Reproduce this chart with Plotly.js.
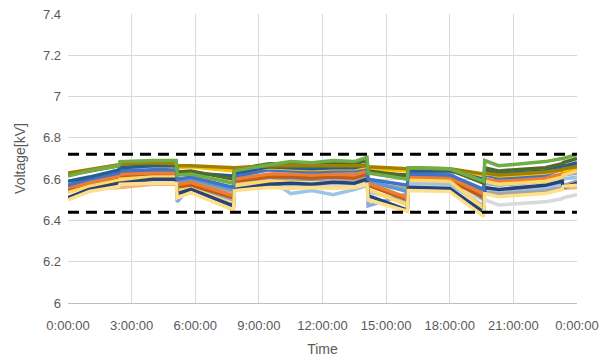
<!DOCTYPE html>
<html>
<head>
<meta charset="utf-8">
<script src="https://cdn.plot.ly/plotly-3.0.1.min.js"></script>
<style>html,body{margin:0;padding:0;background:#fff;}#chart{width:609px;height:363px;}</style>
</head>
<body>
<div id="chart"></div>
<script>
// Time in hours
const hours = [0, 1, 2.4, 2.45, 4, 5.1, 5.15, 5.8, 7.8, 7.85, 9.5, 10.5, 11.5, 12.5, 13.5, 14.1, 14.15, 16, 16.05, 18, 19.6, 19.65, 20.3, 22.5, 23.3, 23.35, 24];
const tickHours = [0, 3, 6, 9, 12, 15, 18, 21, 24];
const tickLabels = ["0:00:00","3:00:00","6:00:00","9:00:00","12:00:00","15:00:00","18:00:00","21:00:00","0:00:00"];
const upperLimit = [6.72, 6.72];
const lowerLimit = [6.44, 6.44];
const limitHours = [0, 24];

const sPeach      = [6.55,6.555,6.56,6.56,6.575,6.575,6.57,6.57,6.56,6.56,6.565,6.565,6.56,6.565,6.565,6.57,6.565,6.56,6.565,6.565,6.545,6.55,6.545,6.55,6.555,6.555,6.56];
const sLightGray  = [6.545,6.565,6.59,6.59,6.595,6.595,6.565,6.57,6.555,6.57,6.58,6.57,6.575,6.57,6.575,6.58,6.57,6.55,6.57,6.565,6.5,6.5,6.475,6.49,6.505,6.51,6.525];
const sGray       = [6.555,6.575,6.6,6.605,6.61,6.605,6.58,6.585,6.54,6.585,6.6,6.595,6.6,6.595,6.6,6.61,6.585,6.55,6.6,6.595,6.525,6.54,6.53,6.545,6.56,6.57,6.59];
const sLightBlue2 = [6.545,6.57,6.59,6.61,6.615,6.615,6.56,6.565,6.5,6.585,6.6,6.53,6.545,6.525,6.55,6.57,6.54,6.49,6.58,6.575,6.47,6.555,6.545,6.56,6.58,6.6,6.61];
const sLightBlue  = [6.57,6.6,6.585,6.655,6.665,6.66,6.49,6.57,6.5,6.61,6.65,6.6,6.61,6.59,6.62,6.66,6.47,6.53,6.64,6.63,6.5,6.58,6.57,6.59,6.61,6.62,6.63];
const sMidBlue    = [6.56,6.59,6.62,6.63,6.64,6.64,6.59,6.6,6.55,6.6,6.62,6.61,6.6,6.615,6.61,6.63,6.59,6.54,6.615,6.61,6.54,6.6,6.585,6.6,6.62,6.63,6.645];
const sBrown      = [6.545,6.57,6.6,6.61,6.62,6.62,6.56,6.57,6.51,6.59,6.61,6.61,6.605,6.61,6.605,6.625,6.57,6.5,6.6,6.595,6.51,6.59,6.58,6.595,6.615,6.63,6.64];
const sOrange     = [6.56,6.58,6.615,6.625,6.63,6.63,6.575,6.585,6.52,6.6,6.625,6.625,6.62,6.625,6.62,6.64,6.58,6.51,6.61,6.605,6.53,6.6,6.59,6.605,6.625,6.64,6.65];
const sYellow2    = [6.535,6.565,6.595,6.6,6.61,6.61,6.545,6.555,6.48,6.57,6.59,6.585,6.58,6.585,6.58,6.6,6.55,6.475,6.595,6.59,6.46,6.59,6.575,6.59,6.61,6.62,6.64];
const sDarkBlue2  = [6.51,6.55,6.58,6.58,6.6,6.6,6.53,6.55,6.47,6.55,6.575,6.58,6.575,6.585,6.58,6.6,6.52,6.45,6.56,6.555,6.44,6.56,6.55,6.57,6.59,6.56,6.58];
const sYellowLow  = [6.5,6.54,6.565,6.575,6.58,6.58,6.51,6.535,6.45,6.545,6.56,6.555,6.56,6.555,6.56,6.575,6.5,6.445,6.545,6.54,6.42,6.53,6.515,6.53,6.55,6.565,6.57];
const sBlue       = [6.57,6.6,6.63,6.64,6.645,6.645,6.6,6.61,6.56,6.615,6.645,6.64,6.635,6.64,6.64,6.655,6.6,6.57,6.625,6.62,6.55,6.62,6.605,6.62,6.645,6.65,6.665];
const sGold       = [6.625,6.645,6.67,6.67,6.665,6.66,6.655,6.66,6.64,6.645,6.655,6.65,6.645,6.65,6.65,6.66,6.65,6.64,6.645,6.645,6.62,6.63,6.615,6.63,6.645,6.64,6.655];
const sDarkBlue1  = [6.59,6.61,6.645,6.655,6.665,6.665,6.635,6.63,6.615,6.63,6.66,6.655,6.65,6.655,6.655,6.67,6.63,6.62,6.64,6.64,6.6,6.64,6.625,6.64,6.66,6.665,6.68];
const sDarkGreen  = [6.62,6.64,6.665,6.675,6.68,6.68,6.635,6.64,6.6,6.645,6.675,6.675,6.67,6.675,6.675,6.69,6.64,6.615,6.655,6.645,6.58,6.655,6.64,6.655,6.675,6.68,6.7];
const sDarkGold   = [6.63,6.645,6.67,6.675,6.68,6.675,6.665,6.665,6.655,6.655,6.665,6.665,6.665,6.665,6.665,6.665,6.66,6.65,6.655,6.65,6.625,6.63,6.62,6.635,6.645,6.65,6.66];
const sGreen      = [6.615,6.64,6.665,6.685,6.69,6.69,6.62,6.625,6.58,6.64,6.67,6.685,6.68,6.69,6.685,6.705,6.63,6.6,6.655,6.65,6.59,6.69,6.665,6.685,6.7,6.7,6.72];

const series = [
  [sPeach, "#F4B183"], [sLightGray, "#D9D9D9"], [sGray, "#A5A5A5"],
  [sLightBlue2, "#9DC3E6"], [sLightBlue, "#8FAADC"], [sMidBlue, "#5B9BD5"],
  [sBrown, "#C55A11"], [sOrange, "#ED7D31"], [sYellow2, "#FFD966"],
  [sDarkBlue2, "#264478"], [sYellowLow, "#FFE08A"], [sBlue, "#4472C4"],
  [sGold, "#FFC000"], [sDarkBlue1, "#255E91"], [sDarkGreen, "#4E6B2A"],
  [sDarkGold, "#A08000"], [sGreen, "#70AD47"]
];

const traces = series.map(([vals, col]) => ({
  x: hours, y: vals, type: "scatter", mode: "lines",
  line: {color: col, width: 3.5}, hoverinfo: "skip", showlegend: false
}));
traces.push({x: limitHours, y: upperLimit, type: "scatter", mode: "lines",
  line: {color: "#000", width: 3, dash: "11px,7px"}, showlegend: false, hoverinfo: "skip"});
traces.push({x: limitHours, y: lowerLimit, type: "scatter", mode: "lines",
  line: {color: "#000", width: 3, dash: "11px,7px"}, showlegend: false, hoverinfo: "skip"});

const font = {family: "Liberation Sans, Arial, sans-serif", color: "#595959"};
const layout = {
  width: 609, height: 363,
  margin: {l: 68, r: 32, t: 14, b: 60},
  paper_bgcolor: "#fff", plot_bgcolor: "#fff",
  font: font,
  xaxis: {
    range: [0, 24], tickvals: tickHours, ticktext: tickLabels,
    showgrid: true, gridcolor: "#D9D9D9", gridwidth: 1,
    zeroline: false, showline: true, linecolor: "#BFBFBF", linewidth: 1,
    ticks: "", ticklabelstandoff: 10,
    tickfont: {size: 13, color: "#595959", family: font.family},
    title: {text: "Time", font: {size: 14, color: "#595959", family: font.family}, standoff: 12}
  },
  yaxis: {
    range: [6, 7.4], dtick: 0.2, tickformat: "~g",
    showgrid: true, gridcolor: "#D9D9D9", gridwidth: 1,
    zeroline: false, showline: false, ticks: "", ticklabelstandoff: 6,
    tickfont: {size: 13, color: "#595959", family: font.family},
    title: {text: "Voltage[kV]", font: {size: 14, color: "#595959", family: font.family}, standoff: 14}
  }
};
Plotly.newPlot("chart", traces, layout, {staticPlot: true, displayModeBar: false});
</script>
</body>
</html>
